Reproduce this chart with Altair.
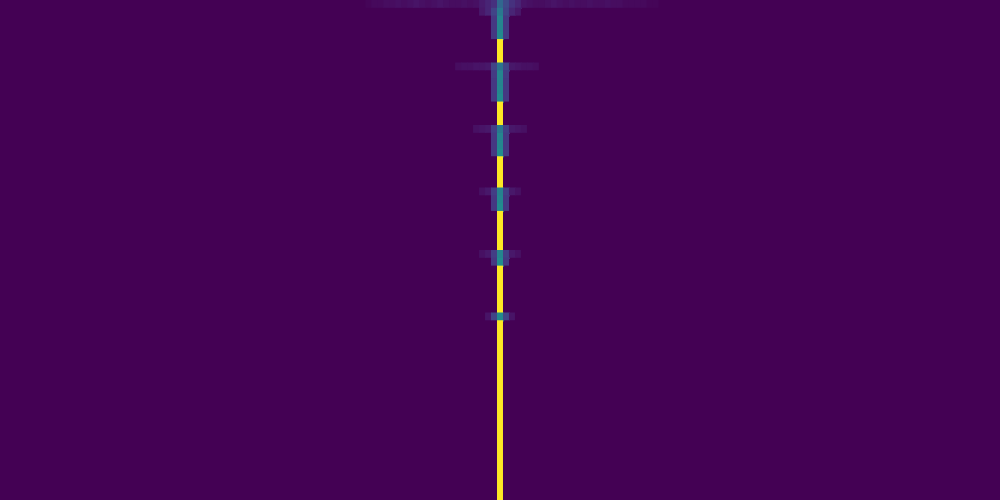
import altair as alt
import pandas as pd

N_ROWS = 64
N_COLS = 167
CENTER = 83

# value of the centre column, row by row (top to bottom)
center_col = [0.33, 0.40, 0.45, 0.45, 0.47, 1.0, 1.0, 1.0,
              0.38, 0.45, 0.45, 0.46, 0.48, 1.0, 1.0, 1.0,
              0.40, 0.45, 0.46, 0.48, 1.0, 1.0, 1.0, 1.0,
              0.44, 0.46, 0.48, 1.0, 1.0, 1.0, 1.0, 1.0,
              0.45, 0.48, 1.0, 1.0, 1.0, 1.0, 1.0, 1.0,
              0.47, 1.0, 1.0, 1.0, 1.0, 1.0, 1.0, 1.0] + [1.0] * 16

# value of the two neighbouring columns (left & right of centre)
side_col = [0.22, 0.20, 0.16, 0.16, 0.16, 0.0, 0.0, 0.0,
            0.20, 0.17, 0.16, 0.16, 0.16, 0.0, 0.0, 0.0,
            0.18, 0.16, 0.16, 0.16, 0.0, 0.0, 0.0, 0.0,
            0.18, 0.16, 0.16, 0.0, 0.0, 0.0, 0.0, 0.0,
            0.18, 0.16, 0.0, 0.0, 0.0, 0.0, 0.0, 0.0,
            0.20, 0.0, 0.0, 0.0, 0.0, 0.0, 0.0, 0.0] + [0.0] * 16

# faint wide bands: row -> (first column, values)
row0_band = (61, [0.01, 0.02, 0.02, 0.03, 0.03, 0.04, 0.03, 0.04, 0.05, 0.04,
                  0.03, 0.04, 0.05, 0.04, 0.03, 0.03, 0.04, 0.03, 0.04, 0.07,
                  0.10, 0.14])
row0_band_r = (85, [0.14, 0.10, 0.05, 0.04, 0.03, 0.03, 0.04, 0.05, 0.04, 0.03,
                    0.04, 0.03, 0.03, 0.04, 0.03, 0.03, 0.04, 0.03, 0.03, 0.02,
                    0.02, 0.02, 0.02, 0.01, 0.01])
row1_band = (80, [0.06, 0.10])
row1_band_r = (85, [0.10, 0.06])
row8_band = (76, [0.03, 0.04, 0.04, 0.05, 0.05, 0.06])
row8_band_r = (85, [0.06, 0.05, 0.04, 0.04, 0.03])
row16_band = (79, [0.04, 0.05, 0.06])
row16_band_r = (85, [0.06, 0.05, 0.04])
row24_band = (80, [0.04, 0.06])
row24_band_r = (85, [0.06, 0.04])
row32_band = (80, [0.04, 0.06])
row32_band_r = (85, [0.06, 0.04])
row40_band = (81, [0.05])
row40_band_r = (85, [0.05])

bands = {
    0: [row0_band, row0_band_r], 1: [row1_band, row1_band_r],
    8: [row8_band, row8_band_r], 16: [row16_band, row16_band_r],
    24: [row24_band, row24_band_r], 32: [row32_band, row32_band_r],
    40: [row40_band, row40_band_r],
}

grid = [[0.0] * N_COLS for _ in range(N_ROWS)]
for r in range(N_ROWS):
    grid[r][CENTER] = center_col[r]
    grid[r][CENTER - 1] = side_col[r]
    grid[r][CENTER + 1] = side_col[r]
for r, segs in bands.items():
    for start, vals in segs:
        for i, v in enumerate(vals):
            grid[r][start + i] = v

# background (all-zero field) as a single cell
bg = pd.DataFrame([{"row": 0, "row2": N_ROWS, "col": 0, "col2": N_COLS, "v": 0.0}])

# non-zero cells, merging equal vertical neighbours within a column;
# a tiny overlap is added only towards non-zero neighbours to hide seams
records = []
for c in range(N_COLS):
    r = 0
    while r < N_ROWS:
        v = grid[r][c]
        e = r + 1
        while e < N_ROWS and grid[e][c] == v:
            e += 1
        if v > 0:
            right_nz = c + 1 < N_COLS and any(grid[k][c + 1] > 0 for k in range(r, e))
            below_nz = e < N_ROWS and grid[e][c] > 0
            records.append({"row": r, "row2": e + (0.15 if below_nz else 0.0),
                            "col": c, "col2": c + (1.15 if right_nz else 1.0), "v": v})
        r = e
cells = pd.DataFrame(records)

scale = alt.Scale(scheme="viridis", domain=[0, 1])
xs = alt.Scale(domain=[0, N_COLS], nice=False, zero=False)
ys = alt.Scale(domain=[0, N_ROWS], nice=False, zero=False, reverse=True)


def layer(data):
    return alt.Chart(data).mark_rect(strokeWidth=0).encode(
        x=alt.X("col:Q", scale=xs, axis=None),
        x2="col2:Q",
        y=alt.Y("row:Q", scale=ys, axis=None),
        y2="row2:Q",
        color=alt.Color("v:Q", scale=scale, legend=None),
    )


chart = alt.layer(layer(bg), layer(cells)).properties(
    width=1000, height=500, padding=0, autosize="none"
).configure_view(strokeWidth=0, clip=True)

chart.save("out.html", embed_options={"renderer": "svg", "actions": False})
